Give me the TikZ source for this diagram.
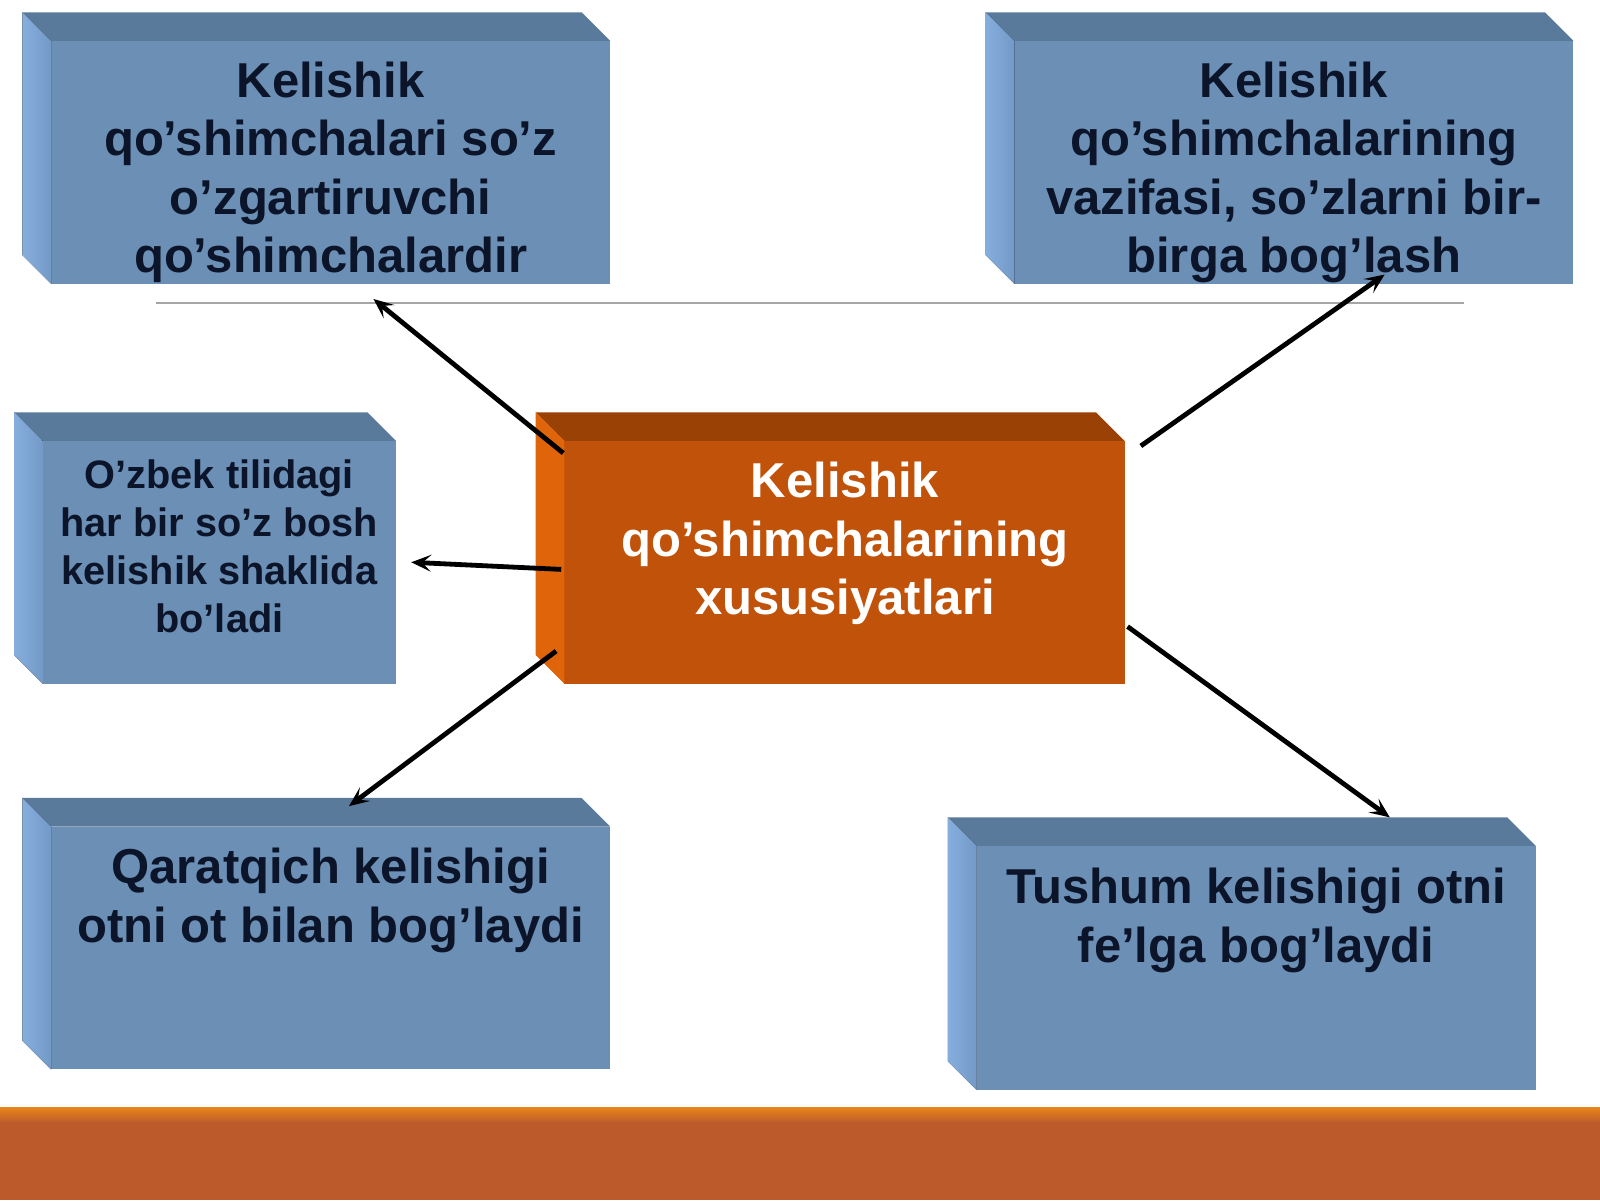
\documentclass[tikz,border=0pt]{standalone}
\usepackage{fontspec}
\setmainfont{Liberation Sans}
\usetikzlibrary{arrows.meta}
\definecolor{bfront}{HTML}{6B8FB5}
\definecolor{btop}{HTML}{5A7A9B}
\definecolor{bleftA}{HTML}{86AEDD}
\definecolor{bleftB}{HTML}{7399C6}
\definecolor{ofront}{HTML}{C0520A}
\definecolor{otop}{HTML}{9A4206}
\definecolor{oleft}{HTML}{E0650A}
\definecolor{txtdark}{HTML}{0B1428}
\definecolor{band}{HTML}{BD5A2C}
\definecolor{bandtop}{HTML}{E8861A}
\newcommand\cubebox[7]{% x0 y0 x1 y1 front top left
  \fill[#5] (#1+28,#2+28) rectangle (#3,#4);
  \fill[#6] (#1,#2) -- (#3-28,#2) -- (#3,#2+28) -- (#1+28,#2+28) -- cycle;
  \fill[#7] (#1,#2) -- (#1+28,#2+28) -- (#1+28,#4) -- (#1,#4-28) -- cycle;
}
\tikzset{
  bigtxt/.style={font=\fontsize{13.95}{16.6}\selectfont\bfseries, text=txtdark, align=center, inner sep=0pt},
  smalltxt/.style={font=\fontsize{11.3}{13.7}\selectfont\bfseries, text=txtdark, align=center, inner sep=0pt},
  conn/.style={line width=0.048cm, black, -{Stealth[length=0.2cm,width=0.17cm,inset=0.09cm]}},
}
\begin{document}
\begin{tikzpicture}[x=0.010204cm,y=-0.010204cm]
\useasboundingbox (0,0) rectangle (1568,1176);
\fill[white] (0,0) rectangle (1568,1176);
% bottom band
\fill[band] (0,1085) rectangle (1568,1176);
\shade[top color=bandtop, bottom color=band] (0,1085) rectangle (1568,1100);
% thin line
\draw[gray!70, line width=0.02cm] (153,297) -- (1435,297);
% boxes
\cubebox{22}{12}{598}{278}{bfront}{btop}{left color=bleftA, right color=bleftB}
\cubebox{966}{12}{1542}{278}{bfront}{btop}{left color=bleftA, right color=bleftB}
\cubebox{14}{404}{388}{670}{bfront}{btop}{left color=bleftA, right color=bleftB}
\cubebox{22}{782}{598}{1048}{bfront}{btop}{left color=bleftA, right color=bleftB}
\cubebox{929}{801}{1505}{1068}{bfront}{btop}{left color=bleftA, right color=bleftB}
\cubebox{525}{404}{1102}{670}{ofront}{otop}{oleft}
% texts
\node[bigtxt] (tl) at (324,169) {Kelishik\\qo’shimchalari so’z\\o’zgartiruvchi\\qo’shimchalardir};
\node[bigtxt] (tr) at (1268,169) {Kelishik\\qo’shimchalarining\\vazifasi, so’zlarni bir-\\birga bog’lash};
\node[smalltxt] (ml) at (215,535.5) {O’zbek tilidagi\\har bir so’z bosh\\kelishik shaklida\\bo’ladi};
\node[bigtxt, text=white] (c) at (828,532.5) {Kelishik\\qo’shimchalarining\\xususiyatlari};
\node[bigtxt] (bl) at (324,882.5) {Qaratqich kelishigi\\otni ot bilan bog’laydi};
\node[bigtxt] (br) at (1231,902) {Tushum kelishigi otni\\fe’lga bog’laydi};
% connector end points
\coordinate (s1) at (552,444); \coordinate (e1) at (366,293);
\coordinate (s2) at (1118,437); \coordinate (e2) at (1357,269);
\coordinate (s3) at (550,558); \coordinate (e3) at (403,551);
\coordinate (s4) at (545,638); \coordinate (e4) at (342,790);
\coordinate (s5) at (1105,614); \coordinate (e5) at (1362,801);
\draw[conn] (s1) -- (e1);
\draw[conn] (s2) -- (e2);
\draw[conn] (s3) -- (e3);
\draw[conn] (s4) -- (e4);
\draw[conn] (s5) -- (e5);
\end{tikzpicture}
\end{document}
